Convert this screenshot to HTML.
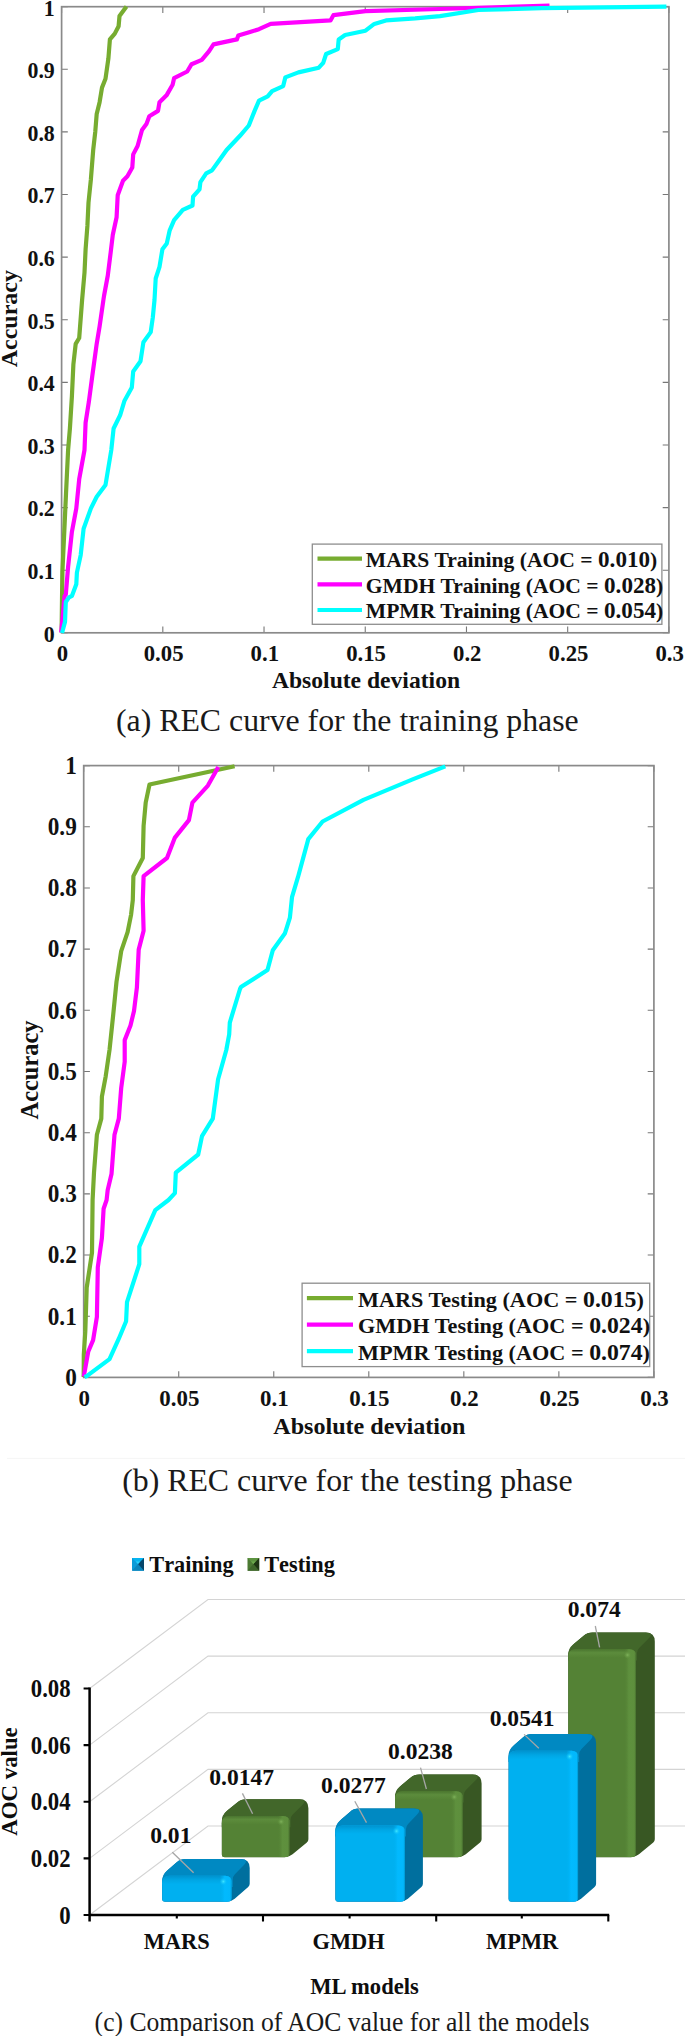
<!DOCTYPE html>
<html lang="en"><head><meta charset="utf-8"><title>REC curves and AOC comparison</title>
<style>html,body{margin:0;padding:0;background:#fff}svg{display:block}text{font-family:'Liberation Serif', 'Times New Roman', serif;white-space:pre}</style>
</head><body>
<svg width="685" height="2036" viewBox="0 0 685 2036">
<rect width="685" height="2036" fill="#fff"/>
<g font-family="'Liberation Serif', 'Times New Roman', serif">
<path d="M61.60 632.80v-6.2M61.60 6.70v6.2M162.82 632.80v-6.2M162.82 6.70v6.2M264.03 632.80v-6.2M264.03 6.70v6.2M365.25 632.80v-6.2M365.25 6.70v6.2M466.47 632.80v-6.2M466.47 6.70v6.2M567.68 632.80v-6.2M567.68 6.70v6.2M668.90 632.80v-6.2M668.90 6.70v6.2M61.60 632.80h6.2M668.90 632.80h-6.2M61.60 570.19h6.2M668.90 570.19h-6.2M61.60 507.58h6.2M668.90 507.58h-6.2M61.60 444.97h6.2M668.90 444.97h-6.2M61.60 382.36h6.2M668.90 382.36h-6.2M61.60 319.75h6.2M668.90 319.75h-6.2M61.60 257.14h6.2M668.90 257.14h-6.2M61.60 194.53h6.2M668.90 194.53h-6.2M61.60 131.92h6.2M668.90 131.92h-6.2M61.60 69.31h6.2M668.90 69.31h-6.2M61.60 6.70h6.2M668.90 6.70h-6.2" stroke="#777777" stroke-width="1.1" fill="none"/>
<rect x="61.60" y="6.70" width="607.30" height="626.10" fill="none" stroke="#8a8a8a" stroke-width="1.7"/>
<polyline points="61.6,632.5 62.0,600.0 62.4,572.0 64.0,537.6 66.0,493.8 68.1,450.0 69.9,428.5 71.9,396.4 73.4,364.2 75.7,343.8 79.2,338.0 82.1,300.0 84.5,272.6 85.6,249.3 87.4,225.9 88.5,202.6 90.9,179.2 93.2,150.0 95.3,131.4 96.7,113.9 99.6,102.2 102.0,87.6 105.5,78.8 108.4,58.4 109.9,39.4 114.8,33.6 118.6,26.3 119.5,16.0 126.5,6.4" fill="none" stroke="#77AC30" stroke-width="4.2" stroke-linejoin="round" stroke-linecap="butt"/>
<polyline points="61.2,632.5 64.6,596.0 65.8,594.6 68.1,566.8 71.9,531.8 76.3,508.4 79.2,479.2 84.5,450.0 85.6,422.6 88.8,402.2 92.3,375.9 96.7,343.8 99.6,326.3 103.4,300.0 104.0,296.0 107.8,275.5 110.7,252.2 112.8,234.7 116.6,217.2 117.7,195.3 123.0,180.7 127.4,176.3 132.3,167.5 133.2,154.4 137.6,146.0 142.0,130.0 146.4,124.1 149.3,116.2 158.0,110.9 159.5,102.2 166.8,94.9 172.6,84.7 174.1,78.2 187.2,71.5 191.6,64.2 201.8,59.9 209.1,51.1 213.5,44.4 236.9,39.4 238.3,35.6 250.0,32.0 259.0,29.2 270.7,23.9 330.5,20.4 333.4,15.2 365.5,11.1 440.0,9.0 549.5,5.6" fill="none" stroke="#FF00FF" stroke-width="4.2" stroke-linejoin="round" stroke-linecap="butt"/>
<polyline points="62.0,633.0 65.0,621.9 65.8,602.0 69.0,597.4 72.0,595.8 76.3,584.3 76.9,572.6 80.7,555.1 83.6,528.8 90.9,508.4 96.7,496.7 105.5,485.0 111.3,450.0 113.6,428.5 120.1,415.3 124.5,400.7 131.8,387.6 133.2,371.5 140.5,361.3 143.4,342.3 150.7,332.1 152.8,317.5 154.5,300.0 155.7,278.5 159.5,266.8 162.4,249.3 166.8,243.4 169.7,230.3 174.1,220.1 182.8,209.9 192.5,205.5 193.1,196.7 199.5,189.4 200.4,182.1 206.2,173.4 212.0,170.4 219.3,160.2 226.6,150.0 240.0,135.8 248.8,125.5 254.6,110.9 259.0,100.7 267.7,96.4 272.1,91.1 283.2,86.1 285.3,77.4 298.4,72.4 318.8,67.7 323.2,62.8 326.1,54.0 337.8,49.1 338.7,39.4 345.1,35.0 365.5,30.7 374.3,23.9 386.0,20.4 415.2,18.4 440.0,16.1 478.4,10.0 541.7,8.2 666.4,6.7" fill="none" stroke="#00FFFF" stroke-width="4.2" stroke-linejoin="round" stroke-linecap="butt"/>
<text transform="translate(54.80 641.70) scale(0.9350 1.0000)" font-size="23.4" font-weight="bold" text-anchor="end" fill="#111" >0</text>
<text transform="translate(54.80 579.09) scale(0.9350 1.0000)" font-size="23.4" font-weight="bold" text-anchor="end" fill="#111" >0.1</text>
<text transform="translate(54.80 516.48) scale(0.9350 1.0000)" font-size="23.4" font-weight="bold" text-anchor="end" fill="#111" >0.2</text>
<text transform="translate(54.80 453.87) scale(0.9350 1.0000)" font-size="23.4" font-weight="bold" text-anchor="end" fill="#111" >0.3</text>
<text transform="translate(54.80 391.26) scale(0.9350 1.0000)" font-size="23.4" font-weight="bold" text-anchor="end" fill="#111" >0.4</text>
<text transform="translate(54.80 328.65) scale(0.9350 1.0000)" font-size="23.4" font-weight="bold" text-anchor="end" fill="#111" >0.5</text>
<text transform="translate(54.80 266.04) scale(0.9350 1.0000)" font-size="23.4" font-weight="bold" text-anchor="end" fill="#111" >0.6</text>
<text transform="translate(54.80 203.43) scale(0.9350 1.0000)" font-size="23.4" font-weight="bold" text-anchor="end" fill="#111" >0.7</text>
<text transform="translate(54.80 140.82) scale(0.9350 1.0000)" font-size="23.4" font-weight="bold" text-anchor="end" fill="#111" >0.8</text>
<text transform="translate(54.80 78.21) scale(0.9350 1.0000)" font-size="23.4" font-weight="bold" text-anchor="end" fill="#111" >0.9</text>
<text transform="translate(54.80 15.60) scale(0.9350 1.0000)" font-size="23.4" font-weight="bold" text-anchor="end" fill="#111" >1</text>
<text transform="translate(62.40 661.40) scale(1.0230 1.0000)" font-size="22.25" font-weight="bold" text-anchor="middle" fill="#111" >0</text>
<text transform="translate(163.62 661.40) scale(1.0230 1.0000)" font-size="22.25" font-weight="bold" text-anchor="middle" fill="#111" >0.05</text>
<text transform="translate(264.83 661.40) scale(1.0230 1.0000)" font-size="22.25" font-weight="bold" text-anchor="middle" fill="#111" >0.1</text>
<text transform="translate(366.05 661.40) scale(1.0230 1.0000)" font-size="22.25" font-weight="bold" text-anchor="middle" fill="#111" >0.15</text>
<text transform="translate(467.27 661.40) scale(1.0230 1.0000)" font-size="22.25" font-weight="bold" text-anchor="middle" fill="#111" >0.2</text>
<text transform="translate(568.48 661.40) scale(1.0230 1.0000)" font-size="22.25" font-weight="bold" text-anchor="middle" fill="#111" >0.25</text>
<text transform="translate(669.70 661.40) scale(1.0230 1.0000)" font-size="22.25" font-weight="bold" text-anchor="middle" fill="#111" >0.3</text>
<text transform="translate(17.30 318.70) rotate(-90)" font-size="24.0" font-weight="bold" text-anchor="middle" fill="#111" >Accuracy</text>
<text transform="translate(366.00 688.30)" font-size="23.6" font-weight="bold" text-anchor="middle" fill="#111" >Absolute deviation</text>
<rect x="312.3" y="544.1" width="349.6" height="80.2" fill="#fff" stroke="#8e8e8e" stroke-width="1.3"/>
<line x1="317.5" x2="362" y1="558.6" y2="558.6" stroke="#77AC30" stroke-width="4.2"/>
<text transform="translate(365.80 566.80)" font-size="21.6" font-weight="bold" text-anchor="start" fill="#111" >MARS Training (AOC = <tspan font-size="107%">0.010</tspan>)</text>
<line x1="317.5" x2="362" y1="584.3" y2="584.3" stroke="#FF00FF" stroke-width="4.2"/>
<text transform="translate(365.80 592.50)" font-size="21.6" font-weight="bold" text-anchor="start" fill="#111" >GMDH Training (AOC = <tspan font-size="107%">0.028</tspan>)</text>
<line x1="317.5" x2="362" y1="610.0" y2="610.0" stroke="#00FFFF" stroke-width="4.2"/>
<text transform="translate(365.80 618.20)" font-size="21.6" font-weight="bold" text-anchor="start" fill="#111" >MPMR Training (AOC = <tspan font-size="107%">0.054</tspan>)</text>
<text transform="translate(116.00 731.00)" font-size="31.8" font-weight="normal" text-anchor="start" fill="#1a1a1a" >(a) REC curve for the training phase</text>
<path d="M83.70 1377.40v-6.2M83.70 765.60v6.2M178.73 1377.40v-6.2M178.73 765.60v6.2M273.77 1377.40v-6.2M273.77 765.60v6.2M368.80 1377.40v-6.2M368.80 765.60v6.2M463.83 1377.40v-6.2M463.83 765.60v6.2M558.87 1377.40v-6.2M558.87 765.60v6.2M653.90 1377.40v-6.2M653.90 765.60v6.2M83.70 1377.40h6.2M653.90 1377.40h-6.2M83.70 1316.22h6.2M653.90 1316.22h-6.2M83.70 1255.04h6.2M653.90 1255.04h-6.2M83.70 1193.86h6.2M653.90 1193.86h-6.2M83.70 1132.68h6.2M653.90 1132.68h-6.2M83.70 1071.50h6.2M653.90 1071.50h-6.2M83.70 1010.32h6.2M653.90 1010.32h-6.2M83.70 949.14h6.2M653.90 949.14h-6.2M83.70 887.96h6.2M653.90 887.96h-6.2M83.70 826.78h6.2M653.90 826.78h-6.2M83.70 765.60h6.2M653.90 765.60h-6.2" stroke="#777777" stroke-width="1.1" fill="none"/>
<rect x="83.70" y="765.60" width="570.20" height="611.80" fill="none" stroke="#8a8a8a" stroke-width="1.7"/>
<polyline points="83.7,1377.0 83.8,1354.7 85.3,1331.4 86.7,1287.6 92.0,1252.6 92.6,1200.0 94.0,1172.6 96.9,1134.7 101.3,1118.6 101.9,1096.7 105.7,1076.3 109.5,1050.0 113.0,1016.8 116.5,981.8 121.2,951.1 127.6,932.1 131.1,914.6 132.8,900.0 133.4,876.1 142.8,858.0 143.6,825.9 145.7,802.6 149.5,784.5 234.6,766.2" fill="none" stroke="#77AC30" stroke-width="4.2" stroke-linejoin="round" stroke-linecap="butt"/>
<polyline points="83.8,1376.5 88.2,1351.8 93.1,1340.1 96.9,1316.8 97.8,1267.2 101.9,1238.0 103.6,1208.8 106.6,1200.0 107.7,1190.1 111.5,1174.1 114.5,1134.7 118.8,1118.6 121.2,1088.0 124.7,1061.7 124.7,1040.1 130.5,1025.5 134.0,1010.9 136.9,987.6 138.7,949.6 143.6,930.7 142.8,900.0 143.6,876.1 167.0,858.0 174.9,837.6 188.9,820.1 192.4,802.6 207.9,785.6 218.3,767.0" fill="none" stroke="#FF00FF" stroke-width="4.2" stroke-linejoin="round" stroke-linecap="butt"/>
<polyline points="84.5,1377.0 86.7,1376.1 109.5,1359.1 118.8,1338.7 126.1,1321.2 127.0,1302.2 139.3,1264.2 139.3,1246.7 155.3,1210.2 168.5,1200.0 174.9,1193.1 175.8,1172.6 198.2,1154.5 202.0,1136.1 212.8,1118.6 218.1,1079.2 226.3,1050.0 229.2,1034.3 229.8,1022.6 240.0,989.0 240.9,987.1 267.5,970.0 272.8,950.3 285.0,933.2 289.9,917.6 292.0,897.2 298.1,876.7 308.3,839.1 322.6,821.5 363.5,799.9 412.6,779.4 445.3,766.4" fill="none" stroke="#00FFFF" stroke-width="4.2" stroke-linejoin="round" stroke-linecap="butt"/>
<text transform="translate(76.80 1385.70) scale(0.9600 1.0000)" font-size="24.2" font-weight="bold" text-anchor="end" fill="#111" >0</text>
<text transform="translate(76.80 1324.52) scale(0.9600 1.0000)" font-size="24.2" font-weight="bold" text-anchor="end" fill="#111" >0.1</text>
<text transform="translate(76.80 1263.34) scale(0.9600 1.0000)" font-size="24.2" font-weight="bold" text-anchor="end" fill="#111" >0.2</text>
<text transform="translate(76.80 1202.16) scale(0.9600 1.0000)" font-size="24.2" font-weight="bold" text-anchor="end" fill="#111" >0.3</text>
<text transform="translate(76.80 1140.98) scale(0.9600 1.0000)" font-size="24.2" font-weight="bold" text-anchor="end" fill="#111" >0.4</text>
<text transform="translate(76.80 1079.80) scale(0.9600 1.0000)" font-size="24.2" font-weight="bold" text-anchor="end" fill="#111" >0.5</text>
<text transform="translate(76.80 1018.62) scale(0.9600 1.0000)" font-size="24.2" font-weight="bold" text-anchor="end" fill="#111" >0.6</text>
<text transform="translate(76.80 957.44) scale(0.9600 1.0000)" font-size="24.2" font-weight="bold" text-anchor="end" fill="#111" >0.7</text>
<text transform="translate(76.80 896.26) scale(0.9600 1.0000)" font-size="24.2" font-weight="bold" text-anchor="end" fill="#111" >0.8</text>
<text transform="translate(76.80 835.08) scale(0.9600 1.0000)" font-size="24.2" font-weight="bold" text-anchor="end" fill="#111" >0.9</text>
<text transform="translate(76.80 773.90) scale(0.9600 1.0000)" font-size="24.2" font-weight="bold" text-anchor="end" fill="#111" >1</text>
<text transform="translate(84.30 1405.60)" font-size="22.9" font-weight="bold" text-anchor="middle" fill="#111" >0</text>
<text transform="translate(179.33 1405.60)" font-size="22.9" font-weight="bold" text-anchor="middle" fill="#111" >0.05</text>
<text transform="translate(274.37 1405.60)" font-size="22.9" font-weight="bold" text-anchor="middle" fill="#111" >0.1</text>
<text transform="translate(369.40 1405.60)" font-size="22.9" font-weight="bold" text-anchor="middle" fill="#111" >0.15</text>
<text transform="translate(464.43 1405.60)" font-size="22.9" font-weight="bold" text-anchor="middle" fill="#111" >0.2</text>
<text transform="translate(559.47 1405.60)" font-size="22.9" font-weight="bold" text-anchor="middle" fill="#111" >0.25</text>
<text transform="translate(654.50 1405.60)" font-size="22.9" font-weight="bold" text-anchor="middle" fill="#111" >0.3</text>
<text transform="translate(37.50 1070.00) rotate(-90)" font-size="24.4" font-weight="bold" text-anchor="middle" fill="#111" >Accuracy</text>
<text transform="translate(369.30 1434.40)" font-size="24.1" font-weight="bold" text-anchor="middle" fill="#111" >Absolute deviation</text>
<rect x="302.1" y="1283.2" width="347.6" height="83.4" fill="#fff" stroke="#8e8e8e" stroke-width="1.3"/>
<line x1="306.9" x2="353" y1="1298.1" y2="1298.1" stroke="#77AC30" stroke-width="4.2"/>
<text transform="translate(358.00 1306.60) scale(1.0100 1.0000)" font-size="22.0" font-weight="bold" text-anchor="start" fill="#111" >MARS Testing (AOC = <tspan font-size="107%">0.015</tspan>)</text>
<line x1="306.9" x2="353" y1="1324.7" y2="1324.7" stroke="#FF00FF" stroke-width="4.2"/>
<text transform="translate(358.00 1333.20) scale(1.0100 1.0000)" font-size="22.0" font-weight="bold" text-anchor="start" fill="#111" >GMDH Testing (AOC = <tspan font-size="107%">0.024</tspan>)</text>
<line x1="306.9" x2="353" y1="1351.2" y2="1351.2" stroke="#00FFFF" stroke-width="4.2"/>
<text transform="translate(358.00 1359.70) scale(1.0100 1.0000)" font-size="22.0" font-weight="bold" text-anchor="start" fill="#111" >MPMR Testing (AOC = <tspan font-size="107%">0.074</tspan>)</text>
<line x1="7" x2="685" y1="1458.4" y2="1458.4" stroke="#f5f5f5" stroke-width="1"/>
<text transform="translate(122.20 1490.60)" font-size="31.8" font-weight="normal" text-anchor="start" fill="#1a1a1a" >(b) REC curve for the testing phase</text>
</g>
<g font-family="'Liberation Serif', 'Times New Roman', serif">
<defs>
<linearGradient id="bTop" x1="0" y1="0" x2="0" y2="1"><stop offset="0" stop-color="#0093cf"/><stop offset="0.5" stop-color="#00a6e4"/><stop offset="1" stop-color="#00b0f0"/></linearGradient>
<linearGradient id="bRight" x1="0" y1="0" x2="1" y2="0"><stop offset="0" stop-color="#00b0f0" stop-opacity="0"/><stop offset="0.4" stop-color="#02baff" stop-opacity="0.95"/><stop offset="0.86" stop-color="#02b8fc"/><stop offset="1" stop-color="#0094cc"/></linearGradient>
<linearGradient id="gTop" x1="0" y1="0" x2="0" y2="1"><stop offset="0" stop-color="#4a752f"/><stop offset="0.4" stop-color="#5c8c3c"/><stop offset="1" stop-color="#548235"/></linearGradient>
<linearGradient id="gRight" x1="0" y1="0" x2="1" y2="0"><stop offset="0" stop-color="#548235" stop-opacity="0"/><stop offset="0.4" stop-color="#5f913e" stop-opacity="0.95"/><stop offset="0.86" stop-color="#5e8f3d"/><stop offset="1" stop-color="#466e2e"/></linearGradient>
<radialGradient id="bHi"><stop offset="0" stop-color="#3fe6ff"/><stop offset="1" stop-color="#04bbfc" stop-opacity="0"/></radialGradient>
<radialGradient id="gHi"><stop offset="0" stop-color="#7fb25a"/><stop offset="1" stop-color="#5e903d" stop-opacity="0"/></radialGradient>
<linearGradient id="sqB" x1="0" y1="0" x2="1" y2="1"><stop offset="0" stop-color="#35b8ee"/><stop offset="0.5" stop-color="#0f9bd6"/><stop offset="0.5" stop-color="#0a78ab"/><stop offset="1" stop-color="#0a6f9f"/></linearGradient>
<linearGradient id="sqG" x1="0" y1="0" x2="1" y2="1"><stop offset="0" stop-color="#6e9a4a"/><stop offset="0.5" stop-color="#55823a"/><stop offset="0.5" stop-color="#3c5f27"/><stop offset="1" stop-color="#365624"/></linearGradient>
</defs>
<path d="M89.6 1915.00L208.0 1826.00H685M89.6 1858.37L208.0 1769.37H685M89.6 1801.74L208.0 1712.74H685M89.6 1745.11L208.0 1656.11H685M89.6 1688.48L208.0 1599.48H685" fill="none" stroke="#d4d4d4" stroke-width="1.1"/>
<path d="M221.80 1823.20Q221.80 1815.20 227.96 1810.09L237.25 1802.39Q241.10 1799.20 246.10 1799.20L299.40 1799.20Q308.40 1799.20 308.40 1808.20L308.40 1839.20Q308.40 1841.20 306.86 1842.48L292.56 1854.33Q289.10 1857.20 284.60 1857.20L224.80 1857.20Q221.80 1857.20 221.80 1854.20Z" fill="#385723"/>
<path d="M221.80 1827.20L221.80 1821.20Q221.80 1815.20 226.42 1811.37L237.25 1802.39Q241.10 1799.20 246.10 1799.20L299.40 1799.20Q308.40 1799.20 301.98 1805.51L292.74 1814.60Q290.60 1816.70 290.60 1819.70L290.60 1827.20Z" fill="#42672a"/>
<clipPath id="fc1"><path d="M221.80 1823.50Q221.80 1816.00 229.30 1816.00L283.00 1816.00Q289.50 1816.00 289.50 1822.50L289.50 1852.70Q289.50 1857.20 285.00 1857.20L224.80 1857.20Q221.80 1857.20 221.80 1854.20Z"/></clipPath>
<g clip-path="url(#fc1)">
<rect x="221.8" y="1815.2" width="68.3" height="42.0" fill="#548235"/>
<rect x="221.8" y="1816.0" width="68.3" height="8.5" fill="url(#gTop)"/>
<rect x="277.6" y="1815.2" width="12" height="42.0" fill="url(#gRight)"/>
<circle cx="281.1" cy="1821.7" r="4" fill="url(#gHi)"/>
</g>
<path d="M395.00 1798.50Q395.00 1790.50 401.16 1785.39L410.45 1777.69Q414.30 1774.50 419.30 1774.50L472.60 1774.50Q481.60 1774.50 481.60 1783.50L481.60 1839.20Q481.60 1841.20 480.06 1842.48L465.76 1854.33Q462.30 1857.20 457.80 1857.20L398.00 1857.20Q395.00 1857.20 395.00 1854.20Z" fill="#385723"/>
<path d="M395.00 1802.50L395.00 1796.50Q395.00 1790.50 399.62 1786.67L410.45 1777.69Q414.30 1774.50 419.30 1774.50L472.60 1774.50Q481.60 1774.50 475.18 1780.81L465.94 1789.90Q463.80 1792.00 463.80 1795.00L463.80 1802.50Z" fill="#42672a"/>
<clipPath id="fc2"><path d="M395.00 1798.80Q395.00 1791.30 402.50 1791.30L456.20 1791.30Q462.70 1791.30 462.70 1797.80L462.70 1852.70Q462.70 1857.20 458.20 1857.20L398.00 1857.20Q395.00 1857.20 395.00 1854.20Z"/></clipPath>
<g clip-path="url(#fc2)">
<rect x="395.0" y="1790.5" width="68.3" height="66.7" fill="#548235"/>
<rect x="395.0" y="1791.3" width="68.3" height="8.5" fill="url(#gTop)"/>
<rect x="450.8" y="1790.5" width="12" height="66.7" fill="url(#gRight)"/>
<circle cx="454.3" cy="1797.0" r="4" fill="url(#gHi)"/>
</g>
<path d="M568.20 1656.50Q568.20 1648.50 574.36 1643.39L583.65 1635.69Q587.50 1632.50 592.50 1632.50L645.80 1632.50Q654.80 1632.50 654.80 1641.50L654.80 1839.20Q654.80 1841.20 653.26 1842.48L638.96 1854.33Q635.50 1857.20 631.00 1857.20L571.20 1857.20Q568.20 1857.20 568.20 1854.20Z" fill="#385723"/>
<path d="M568.20 1660.50L568.20 1654.50Q568.20 1648.50 572.82 1644.67L583.65 1635.69Q587.50 1632.50 592.50 1632.50L645.80 1632.50Q654.80 1632.50 648.38 1638.81L639.14 1647.90Q637.00 1650.00 637.00 1653.00L637.00 1660.50Z" fill="#42672a"/>
<clipPath id="fc3"><path d="M568.20 1656.80Q568.20 1649.30 575.70 1649.30L629.40 1649.30Q635.90 1649.30 635.90 1655.80L635.90 1852.70Q635.90 1857.20 631.40 1857.20L571.20 1857.20Q568.20 1857.20 568.20 1854.20Z"/></clipPath>
<g clip-path="url(#fc3)">
<rect x="568.2" y="1648.5" width="68.3" height="208.7" fill="#548235"/>
<rect x="568.2" y="1649.3" width="68.3" height="8.5" fill="url(#gTop)"/>
<rect x="624.0" y="1648.5" width="12" height="208.7" fill="url(#gRight)"/>
<circle cx="627.5" cy="1655.0" r="4" fill="url(#gHi)"/>
</g>
<path d="M162.10 1883.00Q162.10 1875.00 168.14 1869.75L176.73 1862.28Q180.50 1859.00 185.50 1859.00L240.70 1859.00Q249.70 1859.00 249.70 1868.00L249.70 1883.80Q249.70 1885.80 248.19 1887.11L234.70 1898.85Q231.30 1901.80 226.80 1901.80L165.10 1901.80Q162.10 1901.80 162.10 1898.80Z" fill="#006f9e"/>
<path d="M162.10 1887.00L162.10 1881.00Q162.10 1875.00 166.63 1871.06L176.73 1862.28Q180.50 1859.00 185.50 1859.00L240.70 1859.00Q249.70 1859.00 243.45 1865.47L234.88 1874.34Q232.80 1876.50 232.80 1879.50L232.80 1887.00Z" fill="#0089c2"/>
<clipPath id="fc4"><path d="M162.10 1883.30Q162.10 1875.80 169.60 1875.80L225.20 1875.80Q231.70 1875.80 231.70 1882.30L231.70 1897.30Q231.70 1901.80 227.20 1901.80L165.10 1901.80Q162.10 1901.80 162.10 1898.80Z"/></clipPath>
<g clip-path="url(#fc4)">
<rect x="162.1" y="1875.0" width="70.2" height="26.8" fill="#00b0f0"/>
<rect x="162.1" y="1875.8" width="70.2" height="8.5" fill="url(#bTop)"/>
<rect x="219.8" y="1875.0" width="12" height="26.8" fill="url(#bRight)"/>
<circle cx="223.3" cy="1881.5" r="4" fill="url(#bHi)"/>
</g>
<path d="M335.30 1832.60Q335.30 1824.60 341.34 1819.35L349.93 1811.88Q353.70 1808.60 358.70 1808.60L413.90 1808.60Q422.90 1808.60 422.90 1817.60L422.90 1883.80Q422.90 1885.80 421.39 1887.11L407.90 1898.85Q404.50 1901.80 400.00 1901.80L338.30 1901.80Q335.30 1901.80 335.30 1898.80Z" fill="#006f9e"/>
<path d="M335.30 1836.60L335.30 1830.60Q335.30 1824.60 339.83 1820.66L349.93 1811.88Q353.70 1808.60 358.70 1808.60L413.90 1808.60Q422.90 1808.60 416.65 1815.07L408.08 1823.94Q406.00 1826.10 406.00 1829.10L406.00 1836.60Z" fill="#0089c2"/>
<clipPath id="fc5"><path d="M335.30 1832.90Q335.30 1825.40 342.80 1825.40L398.40 1825.40Q404.90 1825.40 404.90 1831.90L404.90 1897.30Q404.90 1901.80 400.40 1901.80L338.30 1901.80Q335.30 1901.80 335.30 1898.80Z"/></clipPath>
<g clip-path="url(#fc5)">
<rect x="335.3" y="1824.6" width="70.2" height="77.2" fill="#00b0f0"/>
<rect x="335.3" y="1825.4" width="70.2" height="8.5" fill="url(#bTop)"/>
<rect x="393.0" y="1824.6" width="12" height="77.2" fill="url(#bRight)"/>
<circle cx="396.5" cy="1831.1" r="4" fill="url(#bHi)"/>
</g>
<path d="M508.50 1758.00Q508.50 1750.00 514.54 1744.75L523.13 1737.28Q526.90 1734.00 531.90 1734.00L587.10 1734.00Q596.10 1734.00 596.10 1743.00L596.10 1883.80Q596.10 1885.80 594.59 1887.11L581.10 1898.85Q577.70 1901.80 573.20 1901.80L511.50 1901.80Q508.50 1901.80 508.50 1898.80Z" fill="#006f9e"/>
<path d="M508.50 1762.00L508.50 1756.00Q508.50 1750.00 513.03 1746.06L523.13 1737.28Q526.90 1734.00 531.90 1734.00L587.10 1734.00Q596.10 1734.00 589.85 1740.47L581.28 1749.34Q579.20 1751.50 579.20 1754.50L579.20 1762.00Z" fill="#0089c2"/>
<clipPath id="fc6"><path d="M508.50 1758.30Q508.50 1750.80 516.00 1750.80L571.60 1750.80Q578.10 1750.80 578.10 1757.30L578.10 1897.30Q578.10 1901.80 573.60 1901.80L511.50 1901.80Q508.50 1901.80 508.50 1898.80Z"/></clipPath>
<g clip-path="url(#fc6)">
<rect x="508.5" y="1750.0" width="70.2" height="151.8" fill="#00b0f0"/>
<rect x="508.5" y="1750.8" width="70.2" height="8.5" fill="url(#bTop)"/>
<rect x="566.2" y="1750.0" width="12" height="151.8" fill="url(#bRight)"/>
<circle cx="569.7" cy="1756.5" r="4" fill="url(#bHi)"/>
</g>
<line x1="172.3" y1="1852.3" x2="193.6" y2="1872.8" stroke="#a6a6a6" stroke-width="1.3"/>
<line x1="242.4" y1="1793.4" x2="252.6" y2="1813.8" stroke="#a6a6a6" stroke-width="1.3"/>
<line x1="354.8" y1="1801.3" x2="366.5" y2="1822.6" stroke="#a6a6a6" stroke-width="1.3"/>
<line x1="420.5" y1="1767.7" x2="426.4" y2="1789.0" stroke="#a6a6a6" stroke-width="1.3"/>
<line x1="524.1" y1="1734.4" x2="538.8" y2="1748.2" stroke="#a6a6a6" stroke-width="1.3"/>
<line x1="595.3" y1="1626.0" x2="599.6" y2="1647.3" stroke="#a6a6a6" stroke-width="1.3"/>
<text transform="translate(170.80 1843.00) scale(0.9780 1.0000)" font-size="24.1" font-weight="bold" text-anchor="middle" fill="#0d0d0d" >0.01</text>
<text transform="translate(241.70 1784.60) scale(0.9780 1.0000)" font-size="24.1" font-weight="bold" text-anchor="middle" fill="#0d0d0d" >0.0147</text>
<text transform="translate(353.50 1792.60) scale(0.9780 1.0000)" font-size="24.1" font-weight="bold" text-anchor="middle" fill="#0d0d0d" >0.0277</text>
<text transform="translate(420.40 1759.00) scale(0.9780 1.0000)" font-size="24.1" font-weight="bold" text-anchor="middle" fill="#0d0d0d" >0.0238</text>
<text transform="translate(522.10 1726.20) scale(0.9780 1.0000)" font-size="24.1" font-weight="bold" text-anchor="middle" fill="#0d0d0d" >0.0541</text>
<text transform="translate(594.20 1616.80) scale(0.9780 1.0000)" font-size="24.1" font-weight="bold" text-anchor="middle" fill="#0d0d0d" >0.074</text>
<path d="M89.6 1687.5V1921.5M88.7 1915.0H609.2" fill="none" stroke="#000" stroke-width="2.5"/>
<path d="M83.6 1915.00H89.6M83.6 1858.37H89.6M83.6 1801.74H89.6M83.6 1745.11H89.6M83.6 1688.48H89.6M176.8 1915.0v3.5M263.0 1915.0v6.5M349.6 1915.0v3.5M436.2 1915.0v6.5M521.8 1915.0v3.5M608.3 1915.0v6.5" fill="none" stroke="#000" stroke-width="2.1"/>
<text transform="translate(70.60 1923.70) scale(0.9360 1.0000)" font-size="24.3" font-weight="bold" text-anchor="end" fill="#0d0d0d" >0</text>
<text transform="translate(70.60 1867.07) scale(0.9360 1.0000)" font-size="24.3" font-weight="bold" text-anchor="end" fill="#0d0d0d" >0.02</text>
<text transform="translate(70.60 1810.44) scale(0.9360 1.0000)" font-size="24.3" font-weight="bold" text-anchor="end" fill="#0d0d0d" >0.04</text>
<text transform="translate(70.60 1753.81) scale(0.9360 1.0000)" font-size="24.3" font-weight="bold" text-anchor="end" fill="#0d0d0d" >0.06</text>
<text transform="translate(70.60 1697.18) scale(0.9360 1.0000)" font-size="24.3" font-weight="bold" text-anchor="end" fill="#0d0d0d" >0.08</text>
<text transform="translate(176.70 1949.30) scale(0.9350 1.0000)" font-size="24.0" font-weight="bold" text-anchor="middle" fill="#0d0d0d" >MARS</text>
<text transform="translate(348.60 1949.30) scale(0.9350 1.0000)" font-size="24.0" font-weight="bold" text-anchor="middle" fill="#0d0d0d" >GMDH</text>
<text transform="translate(522.20 1949.30) scale(0.9350 1.0000)" font-size="24.0" font-weight="bold" text-anchor="middle" fill="#0d0d0d" >MPMR</text>
<text transform="translate(364.50 1994.20)" font-size="22.6" font-weight="bold" text-anchor="middle" fill="#0d0d0d" >ML models</text>
<text transform="translate(16.80 1781.50) rotate(-90)" font-size="22.85" font-weight="bold" text-anchor="middle" fill="#0d0d0d" >AOC value</text>
<rect x="132.0" y="1558.0" width="12.0" height="12.7" fill="#0a9bd8"/>
<path d="M132.0 1558.0L144.0 1558.0L138.0 1564.05Z" fill="#06b4f0"/>
<path d="M132.0 1570.7L144.0 1570.7L138.0 1564.05Z" fill="#0b86bd"/>
<path d="M144.0 1558.0L144.0 1570.7L138.0 1564.05Z" fill="#06466a"/>
<path d="M135.8 1561.45L140.2 1561.45L138.0 1564.05Z" fill="#2cd2fb"/>
<rect x="247.5" y="1558.0" width="11.7" height="12.7" fill="#4c7a33"/>
<path d="M247.5 1558.0L259.2 1558.0L253.35 1564.05Z" fill="#5d9440"/>
<path d="M247.5 1570.7L259.2 1570.7L253.35 1564.05Z" fill="#3f672b"/>
<path d="M259.2 1558.0L259.2 1570.7L253.35 1564.05Z" fill="#1f3614"/>
<path d="M251.15 1561.45L255.54999999999998 1561.45L253.35 1564.05Z" fill="#6fab4f"/>
<text transform="translate(149.30 1572.40)" font-size="22.3" font-weight="bold" text-anchor="start" fill="#0d0d0d" style="font-kerning:none">Training</text>
<text transform="translate(264.20 1572.40)" font-size="22.3" font-weight="bold" text-anchor="start" fill="#0d0d0d" style="font-kerning:none">Testing</text>
<text transform="translate(94.60 2031.00) scale(1.0000 1.0400)" font-size="25.62" font-weight="normal" text-anchor="start" fill="#1a1a1a" >(c) Comparison of AOC value for all the models</text>
</g>
</svg>
</body></html>
